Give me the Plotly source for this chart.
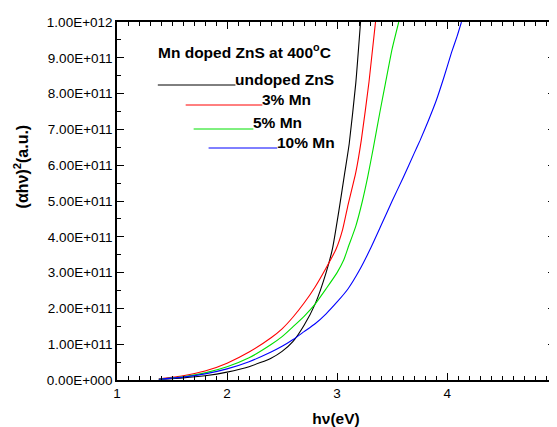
import plotly.graph_objects as go

# ---- data (hv in eV, (alpha h nu)^2 in a.u.) ----
hv_undoped = [1.38, 1.60, 1.80, 2.00, 2.20, 2.40, 2.50, 2.60, 2.70, 2.80, 2.90, 2.96,
              3.02, 3.07, 3.11, 3.17, 3.213]
y_undoped = [0.002e12, 0.006e12, 0.012e12, 0.022e12, 0.037e12, 0.061e12, 0.080e12, 0.108e12,
             0.153e12, 0.212e12, 0.300e12, 0.370e12, 0.480e12, 0.580e12, 0.660e12, 0.830e12,
             1.000e12]

hv_3mn = [1.38, 1.60, 1.80, 2.00, 2.20, 2.40, 2.50, 2.60, 2.70, 2.80, 2.90, 2.99, 3.05,
          3.10, 3.17, 3.22, 3.29, 3.349]
y_3mn = [0.003e12, 0.012e12, 0.025e12, 0.047e12, 0.078e12, 0.118e12, 0.143e12, 0.176e12,
         0.215e12, 0.260e12, 0.313e12, 0.365e12, 0.420e12, 0.490e12, 0.580e12, 0.670e12,
         0.833e12, 1.000e12]

hv_5mn = [1.38, 1.60, 1.80, 2.00, 2.20, 2.40, 2.50, 2.60, 2.70, 2.80, 2.90, 3.00, 3.06,
          3.10, 3.17, 3.23, 3.28, 3.33, 3.39, 3.44, 3.50, 3.56]
y_5mn = [0.002e12, 0.009e12, 0.020e12, 0.037e12, 0.062e12, 0.099e12, 0.121e12, 0.149e12,
         0.178e12, 0.212e12, 0.255e12, 0.300e12, 0.335e12, 0.370e12, 0.430e12, 0.500e12,
         0.570e12, 0.650e12, 0.750e12, 0.830e12, 0.925e12, 1.000e12]

hv_10mn = [1.38, 1.60, 1.80, 2.00, 2.20, 2.40, 2.50, 2.60, 2.70, 2.80, 2.90, 3.00, 3.10,
           3.20, 3.30, 3.40, 3.50, 3.60, 3.70, 3.755, 3.83, 3.90, 3.97, 4.04, 4.09, 4.13]
y_10mn = [0.002e12, 0.008e12, 0.017e12, 0.031e12, 0.051e12, 0.078e12, 0.094e12, 0.113e12,
          0.135e12, 0.157e12, 0.185e12, 0.218e12, 0.255e12, 0.305e12, 0.365e12, 0.432e12,
          0.500e12, 0.565e12, 0.633e12, 0.670e12, 0.725e12, 0.780e12, 0.845e12, 0.915e12,
          0.960e12, 1.000e12]

y_tickvals = [0, 1e11, 2e11, 3e11, 4e11, 5e11, 6e11, 7e11, 8e11, 9e11, 1e12]
y_ticktext = ["0.00E+000", "1.00E+011", "2.00E+011", "3.00E+011", "4.00E+011", "5.00E+011",
              "6.00E+011", "7.00E+011", "8.00E+011", "9.00E+011", "1.00E+012"]
x_tickvals = [1, 2, 3, 4, 5]

series = [
    ("undoped ZnS", hv_undoped, y_undoped, "#000000"),
    ("3% Mn", hv_3mn, y_3mn, "#ff0000"),
    ("5% Mn", hv_5mn, y_5mn, "#00e000"),
    ("10% Mn", hv_10mn, y_10mn, "#0000ff"),
]

FONT = "Liberation Sans, Arial, sans-serif"
OFF = 8                      # default body margin of the html page
W, H = 557 - OFF, 427 - OFF
L, R, T, B = 117 - OFF, 0, 22 - OFF, 47
PW, PH = W - L - R, H - T - B

fig = go.Figure()
for name, xs, ys, col in series:
    fig.add_trace(go.Scatter(x=xs, y=ys, mode="lines", name=name,
                             line=dict(color=col, width=1.1, shape="spline", smoothing=0.5),
                             showlegend=False))


def px_to_paper(px, py):
    # screen pixel -> paper coords
    return (px - OFF - L) / PW, (OFF + H - B - py) / PH


legend_items = [
    ("undoped ZnS", "#000000", 158, 236, 85, 79),
    ("3% Mn", "#ff0000", 186, 263, 105, 99),
    ("5% Mn", "#00e000", 194, 254, 129, 123),
    ("10% Mn", "#0000ff", 209, 278, 148, 142),
]
shapes = []
annotations = []
for text, col, x0, x1, ly, ty in legend_items:
    a0, b0 = px_to_paper(x0, ly)
    a1, _ = px_to_paper(x1, ly)
    shapes.append(dict(type="line", xref="paper", yref="paper", x0=a0, x1=a1, y0=b0, y1=b0,
                       line=dict(color=col, width=1)))
    tx, tyy = px_to_paper(x1, ty)
    annotations.append(dict(x=tx, y=tyy, xref="paper", yref="paper", text="<b>%s</b>" % text,
                            showarrow=False, xanchor="left", yanchor="middle",
                            xshift=-2,
                            font=dict(family=FONT, size=15.5, color="black")))

tx, tyy = px_to_paper(156, 51)
annotations.append(dict(x=tx, y=tyy, xref="paper", yref="paper",
                        text="<b>Mn doped ZnS at 400<sup>o</sup>C</b>",
                        showarrow=False, xanchor="left", yanchor="middle",
                        font=dict(family=FONT, size=15.5, color="black")))

tx, tyy = px_to_paper(21, 166)
annotations.append(dict(x=tx, y=tyy, xref="paper", yref="paper",
                        text="<b>(αhν)<sup>2</sup>(a.u.)</b>", textangle=-90,
                        showarrow=False, xanchor="center", yanchor="middle",
                        font=dict(family=FONT, size=16, color="black")))

fig.update_layout(
    width=W, height=H,
    margin=dict(l=L, r=R, t=T, b=B, pad=0),
    paper_bgcolor="white", plot_bgcolor="white",
    font=dict(family=FONT, size=13.5, color="black"),
    shapes=shapes, annotations=annotations,
    showlegend=False,
)
fig.update_xaxes(
    range=[1, 4.98], tickmode="array", tickvals=x_tickvals,
    ticks="inside", ticklen=7, tickwidth=1, tickcolor="black",
    showline=True, linecolor="black", linewidth=1.5, mirror="allticks",
    showgrid=False, zeroline=False,
    minor=dict(dtick=0.1, ticks="inside", ticklen=4, tickwidth=1, tickcolor="black", showgrid=False),
    tickfont=dict(family=FONT, size=13.5, color="black"),
    title=dict(text="<b>hν(eV)</b>", font=dict(family=FONT, size=15.5, color="black"), standoff=13),
)
fig.update_yaxes(
    range=[0, 1e12], tickmode="array", tickvals=y_tickvals, ticktext=y_ticktext,
    ticks="inside", ticklen=7, tickwidth=1, tickcolor="black",
    showline=True, linecolor="black", linewidth=1.5, mirror="allticks",
    showgrid=False, zeroline=False,
    minor=dict(dtick=5e10, ticks="inside", ticklen=4, tickwidth=1, tickcolor="black", showgrid=False),
    tickfont=dict(family=FONT, size=13.5, color="black"),
)

fig.write_html("out.html")
